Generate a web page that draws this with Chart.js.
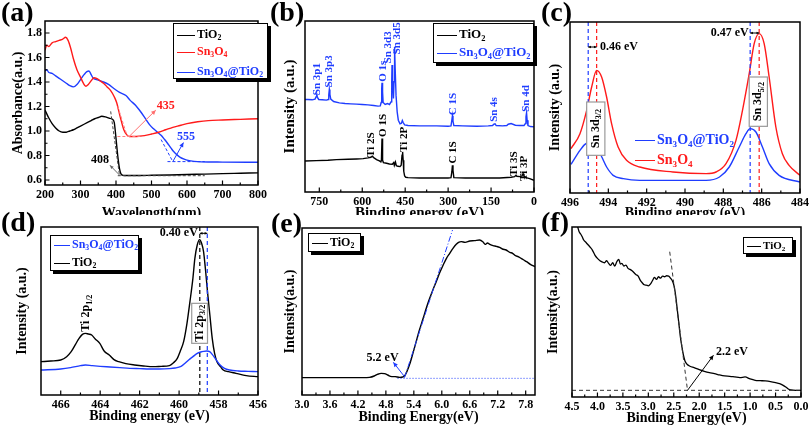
<!DOCTYPE html>
<html>
<head>
<meta charset="utf-8">
<script src="https://cdn.jsdelivr.net/npm/chart.js@4.4.1/dist/chart.umd.min.js"></script>
<style>
  body { margin: 0; background: #fff; width: 812px; height: 429px; position: relative; overflow: hidden;
         font-family: 'Liberation Serif', 'Times New Roman', serif; font-weight: bold; }
  canvas { position: absolute; }
  .tag { position: absolute; font-size: 28px; line-height: 1; z-index: 5; }
  .lg { position: absolute; background: #fff; border: 1px solid #000; box-shadow: 3px 3px 0 #000; z-index: 4; }
  .lgn { position: absolute; z-index: 4; }
  .r { position: absolute; left: 3px; white-space: nowrap; line-height: 14px; height: 14px; }
  .r b { display: inline-block; width: 18px; height: 0; border-top: 1.6px solid; vertical-align: middle; margin-right: 2px; }
  sub { font-size: 0.65em; line-height: 0; vertical-align: -0.3em; }
</style>
</head>
<body>
<canvas id="ca" width="270" height="215" style="left:0;top:0"></canvas>
<canvas id="cb" width="270" height="215" style="left:270px;top:0"></canvas>
<canvas id="cc" width="272" height="215" style="left:540px;top:0"></canvas>
<canvas id="cd" width="270" height="214" style="left:0;top:215px"></canvas>
<canvas id="ce" width="270" height="214" style="left:270px;top:215px"></canvas>
<canvas id="cf" width="272" height="214" style="left:540px;top:215px"></canvas>

<div class="tag" style="left:1px;top:-2px">(a)</div>
<div class="tag" style="left:270px;top:-2px">(b)</div>
<div class="tag" style="left:541px;top:-2px">(c)</div>
<div class="tag" style="left:1px;top:208px">(d)</div>
<div class="tag" style="left:271px;top:209px">(e)</div>
<div class="tag" style="left:541px;top:208px">(f)</div>

<div class="lg" style="left:173px;top:23px;width:93px;height:54px;font-size:12px">
  <div class="r" style="top:3px;color:#000"><b></b>TiO<sub>2</sub></div>
  <div class="r" style="top:20px;color:#ff1a1a"><b></b>Sn<sub>3</sub>O<sub>4</sub></div>
  <div class="r" style="top:40px;color:#1f3dff"><b></b>Sn<sub>3</sub>O<sub>4</sub>@TiO<sub>2</sub></div>
</div>
<div class="lg" style="left:433px;top:23px;width:99px;height:38px;font-size:13px">
  <div class="r" style="top:3px;color:#000"><b style="width:20px"></b>TiO<sub>2</sub></div>
  <div class="r" style="top:21px;color:#1f3dff"><b style="width:20px"></b>Sn<sub>3</sub>O<sub>4</sub>@TiO<sub>2</sub></div>
</div>
<div class="lgn" style="left:632px;top:133px;font-size:14px">
  <div class="r" style="top:0;color:#1f3dff"><b style="width:20px"></b>Sn<sub>3</sub>O<sub>4</sub>@TiO<sub>2</sub></div>
  <div class="r" style="top:20px;color:#ff1a1a"><b style="width:20px"></b>Sn<sub>3</sub>O<sub>4</sub></div>
</div>
<div class="lg" style="left:50px;top:235px;width:87px;height:34px;font-size:12px">
  <div class="r" style="top:1px;color:#1f3dff"><b style="width:16px"></b>Sn<sub>3</sub>O<sub>4</sub>@TiO<sub>2</sub></div>
  <div class="r" style="top:19px;color:#000"><b style="width:16px"></b>TiO<sub>2</sub></div>
</div>
<div class="lg" style="left:308px;top:233px;width:51px;height:17px;font-size:12px">
  <div class="r" style="top:1px;color:#000"><b style="width:16px"></b>TiO<sub>2</sub></div>
</div>
<div class="lg" style="left:743px;top:237px;width:48px;height:15px;font-size:11px">
  <div class="r" style="top:0;color:#000"><b style="width:14px"></b>TiO<sub>2</sub></div>
</div>

<script>
// Six-panel figure: UV-vis absorbance + XPS spectra of TiO2 / Sn3O4 / Sn3O4@TiO2

const FONT = "'Liberation Serif', 'Times New Roman', serif";
const RED = '#ff1a1a', BLUE = '#1f3dff', BLK = '#000';

// --- (a) UV-vis absorbance ---
const aXTicks = [200, 300, 400, 500, 600, 700, 800];
const aYTicks = [0.6, 0.8, 1.0, 1.2, 1.4, 1.6, 1.8];
const aTiO2 = [[200,1.17],[205,1.14],[210,1.11],[220,1.06],[230,1.025],[240,1.0],[250,0.99],[260,0.99],[270,1.0],[280,1.01],
  [290,1.025],[300,1.04],[310,1.055],[320,1.07],[330,1.085],[340,1.10],[350,1.11],[360,1.12],[370,1.115],[380,1.105],
  [390,1.095],[395,1.07],[398,1.0],[402,0.88],[406,0.77],[410,0.69],[414,0.65],[420,0.638],[430,0.636],[450,0.636],
  [500,0.638],[550,0.641],[600,0.645],[650,0.648],[700,0.652],[750,0.655],[800,0.658]];
const aSn3O4 = [[200,1.66],[205,1.70],[210,1.69],[220,1.72],[230,1.73],[240,1.74],[250,1.75],[258,1.765],[265,1.74],[272,1.68],
  [280,1.59],[290,1.50],[300,1.44],[308,1.39],[315,1.365],[322,1.38],[330,1.41],[338,1.435],[345,1.43],[355,1.41],
  [365,1.39],[375,1.36],[385,1.33],[395,1.28],[402,1.23],[408,1.16],[415,1.08],[422,1.01],[430,0.97],[437,0.955],
  [450,0.955],[465,0.957],[480,0.962],[500,0.975],[520,0.99],[540,1.01],[560,1.03],[580,1.045],[600,1.06],[630,1.075],
  [660,1.085],[700,1.09],[750,1.095],[800,1.10]];
const aComp = [[200,1.49],[205,1.50],[210,1.48],[220,1.47],[230,1.45],[240,1.43],[250,1.41],[260,1.39],[270,1.37],[280,1.36],
  [290,1.38],[300,1.42],[310,1.46],[318,1.485],[324,1.49],[330,1.46],[336,1.43],[345,1.42],[355,1.41],[365,1.40],
  [379,1.38],[395,1.345],[410,1.315],[428,1.29],[440,1.25],[455,1.21],[470,1.155],[482,1.105],[495,1.05],[505,1.02],
  [517,0.99],[527,0.965],[537,0.93],[545,0.90],[555,0.86],[563,0.83],[572,0.805],[581,0.785],[592,0.77],[603,0.76],
  [620,0.752],[640,0.748],[700,0.746],[800,0.745]];

// --- (b) XPS survey ---
const bXTicks = [750, 600, 450, 300, 150, 0];
const bTiO2 = [[800,93],[760,94],[720,95],[690,97],[650,98],[620,99],[597,100],[580,102],[570,104],[565,107],[560,103],
  [550,97],[540,93],[535,90],[533,95],[531,160],[529,95],[526,88],[515,86],[505,84],[495,83],[490,88],[488,80],[484,90],
  [481,79],[475,77],[468,76],[464,80],[461,110],[459,120],[457,95],[455,62],[452,48],[448,44],[440,43],[400,42],[340,42],
  [300,42],[290,43],[287,60],[285,80],[283,65],[280,43],[240,42],[180,42],[120,42],[80,44],[68,46],[63,50],[60,47],
  [50,46],[42,48],[38,55],[35,48],[28,43],[15,40],[0,35]];
const bComp = [[800,277],[790,277],[775,276],[765,278],[761,285],[759,295],[757,284],[752,277],[740,276],[725,275],[719,277],
  [717,290],[715,307],[713,292],[710,278],[700,271],[680,267],[660,265],[640,264],[620,263],[600,262],[580,261],[560,259],
  [545,257],[537,258],[534,268],[532,310],[531,327],[529,300],[527,268],[520,262],[512,265],[505,262],[499,270],[497,330],
  [496,380],[494,330],[491,280],[489,330],[487,435],[485,370],[482,290],[478,240],[474,215],[468,204],[463,206],[460,214],
  [457,208],[452,201],[440,199],[400,198],[340,198],[300,197],[290,198],[287,215],[285,228],[283,212],[280,199],[250,198],
  [200,197],[160,198],[145,199],[140,203],[136,204],[132,199],[110,198],[95,199],[90,203],[80,205],[65,200],[50,199],
  [35,199],[30,205],[28,225],[26,237],[24,215],[21,199],[12,196],[0,195]];

// --- (c) Sn 3d ---
const cXTicks = [496, 494, 492, 490, 488, 486, 484];
const cComp = [[495.95,86],[495.48,128],[495.22,146],[495.05,150],[494.79,133],[494.44,118],[494.09,78],[493.75,53],
  [493.22,43],[492.36,38],[490.6,38],[488.9,38],[488.2,48],[487.69,78],[487.17,138],[486.82,178],[486.6,193],[486.3,183],
  [485.96,138],[485.61,88],[485.09,53],[484.0,33]];
const cSn3O4 = [[495.95,133],[495.48,178],[495.13,248],[494.87,318],[494.61,368],[494.35,348],[494.09,288],[493.83,208],
  [493.49,138],[493.05,98],[492.36,78],[490.63,63],[488.9,58],[488.38,63],[487.86,88],[487.34,158],[487.0,248],[486.65,358],
  [486.39,448],[486.13,478],[485.87,448],[485.61,348],[485.26,198],[484.92,118],[484.57,83],[484.0,53]];

// --- (d) Ti 2p ---
const dXTicks = [466, 464, 462, 460, 458, 456];
const dComp = [[467,75],[466,78],[465.5,82],[465,88],[464.75,90],[464.4,88],[464,86],[463.5,84],[463,82],[462.5,80],[462,79],
  [461.5,78],[461,78],[460.5,79],[460.2,81],[459.9,86],[459.7,95],[459.5,106],[459.3,115],[459.1,124],[458.9,129],
  [458.75,131],[458.6,132],[458.45,130],[458.32,122],[458.15,108],[457.92,90],[457.7,80],[457.44,75],[457,72],[456.5,71],[456,70]];
const dTiO2 = [[467,100],[466.5,102],[466,105],[465.7,115],[465.47,130],[465.25,152],[465.07,170],[464.9,182],[464.75,185],
  [464.6,183],[464.43,180],[464.25,168],[464.02,155],[463.8,132],[463.54,120],[463.3,106],[463.06,100],[462.7,94],
  [462.26,90],[461.8,87],[461.29,85],[460.9,86],[460.49,88],[460.3,96],[460.09,110],[459.95,130],[459.77,160],[459.6,215],
  [459.45,280],[459.3,350],[459.2,410],[459.08,450],[458.96,466],[458.86,455],[458.76,430],[458.66,375],[458.56,310],
  [458.44,240],[458.32,170],[458.2,125],[458.08,100],[457.9,85],[457.76,75],[457.5,70],[457.12,65],[456.6,58],[456,55]];

// --- (e) valence band onset ---
const eXTicks = [3.0, 3.6, 4.2, 4.8, 5.4, 6.0, 6.6, 7.2, 7.8];
const eTiO2 = [[3.0,52],[3.5,52],[4.0,52],[4.3,52],[4.45,53],[4.55,57],[4.62,62],[4.7,65],[4.77,64],[4.84,60],[4.9,56],
  [5.0,55],[5.1,53],[5.16,54],[5.2,57],[5.25,70],[5.31,92],[5.38,125],[5.45,160],[5.52,195],[5.6,230],[5.67,262],
  [5.74,290],[5.81,316],[5.88,340],[5.95,365],[6.03,390],[6.1,410],[6.17,425],[6.24,440],[6.31,452],[6.36,458],[6.42,460],
  [6.5,458],[6.6,462],[6.7,463],[6.81,465],[6.88,460],[6.93,452],[6.98,456],[7.03,452],[7.1,448],[7.17,446],[7.24,443],
  [7.3,438],[7.38,435],[7.46,428],[7.52,425],[7.58,418],[7.64,415],[7.7,410],[7.76,405],[7.82,400],[7.9,392],[8.0,385]];

// --- (f) VB-XPS ---
const fXTicks = [4.5, 4.0, 3.5, 3.0, 2.5, 2.0, 1.5, 1.0, 0.5, 0.0];
const fTiO2 = [[4.39,510],[4.36,495],[4.33,488],[4.30,480],[4.27,470],[4.22,462],[4.18,455],[4.14,448],[4.10,440],[4.05,425],
  [4.0,415],[3.95,408],[3.9,404],[3.86,402],[3.82,408],[3.78,400],[3.74,394],[3.70,402],[3.66,392],[3.62,405],[3.58,412],
  [3.55,398],[3.52,400],[3.48,392],[3.44,395],[3.40,385],[3.36,382],[3.32,378],[3.28,372],[3.24,366],[3.2,362],[3.16,350],
  [3.12,342],[3.08,336],[3.04,335],[3.0,333],[2.96,338],[2.92,348],[2.88,358],[2.84,352],[2.80,360],[2.76,356],[2.72,362],
  [2.68,360],[2.64,363],[2.60,362],[2.56,355],[2.52,345],[2.49,330],[2.46,300],[2.43,260],[2.40,220],[2.37,180],[2.34,150],
  [2.31,125],[2.28,108],[2.24,98],[2.18,92],[2.1,88],[2.0,82],[1.9,77],[1.8,73],[1.7,70],[1.6,66],[1.5,63],[1.4,62],
  [1.3,60],[1.2,58],[1.1,60],[1.0,54],[0.9,50],[0.8,49],[0.7,48],[0.6,46],[0.5,43],[0.42,40],[0.35,35],[0.3,30],
  [0.25,24],[0.2,21],[0.1,20],[0.0,20]];

// ---------- drawing helpers ----------
function drawRich(ctx, parts, x, y, size, color, align, rot) {
  const segs = [].concat(parts).map(p => p[0] === '_' ? { s: p.slice(1), sub: true } : { s: p, sub: false });
  const f = sub => `bold ${sub ? Math.round(size * 0.65) : size}px ${FONT}`;
  let w = 0;
  segs.forEach(g => { ctx.font = f(g.sub); g.w = ctx.measureText(g.s).width; w += g.w; });
  ctx.save();
  ctx.translate(x, y);
  if (rot) ctx.rotate(-Math.PI / 2);
  ctx.fillStyle = color; ctx.textBaseline = 'middle'; ctx.textAlign = 'left';
  let cx = align === 'center' ? -w / 2 : align === 'right' ? -w : 0;
  segs.forEach(g => { ctx.font = f(g.sub); ctx.fillText(g.s, cx, g.sub ? size * 0.3 : 0); cx += g.w; });
  ctx.restore();
}

function arrowHead(ctx, x1, y1, x2, y2, s) {
  const a = Math.atan2(y2 - y1, x2 - x1);
  ctx.beginPath();
  ctx.moveTo(x2, y2);
  ctx.lineTo(x2 - s * Math.cos(a - 0.45), y2 - s * Math.sin(a - 0.45));
  ctx.lineTo(x2 - s * Math.cos(a + 0.45), y2 - s * Math.sin(a + 0.45));
  ctx.closePath();
  ctx.fill();
}

function drawMarks(chart, marks) {
  const { ctx, chartArea: a, scales: { x, y } } = chart;
  const X = v => x.getPixelForValue(v), Y = v => y.getPixelForValue(v);
  marks.forEach(m => {
    ctx.save();
    ctx.strokeStyle = ctx.fillStyle = m.c || BLK;
    ctx.lineWidth = m.w || 1.2;
    if (m.t === 'seg') {
      const [x1, y1, x2, y2] = [X(m.p[0]), Y(m.p[1]), X(m.p[2]), Y(m.p[3])];
      ctx.setLineDash(m.dash || []);
      ctx.beginPath(); ctx.moveTo(x1, y1); ctx.lineTo(x2, y2); ctx.stroke();
      ctx.setLineDash([]);
      if (m.head === 'end' || m.head === 'both') arrowHead(ctx, x1, y1, x2, y2, m.hs || 5);
      if (m.head === 'both') arrowHead(ctx, x2, y2, x1, y1, m.hs || 5);
    } else if (m.t === 'vl') {
      ctx.setLineDash(m.dash || [4, 3]);
      ctx.beginPath(); ctx.moveTo(X(m.x), a.top); ctx.lineTo(X(m.x), a.bottom); ctx.stroke();
    } else if (m.t === 'box') {
      const x1 = X(m.p[0]), y1 = Y(m.p[1]), x2 = X(m.p[2]), y2 = Y(m.p[3]);
      ctx.fillStyle = '#fff'; ctx.fillRect(x1, y1, x2 - x1, y2 - y1);
      ctx.strokeStyle = '#9a9a9a'; ctx.lineWidth = 1.2; ctx.strokeRect(x1, y1, x2 - x1, y2 - y1);
    } else if (m.t === 'txt') {
      drawRich(ctx, m.s, X(m.x), Y(m.y), m.size || 12, m.c || BLK, m.a || 'center', m.rot);
    }
    ctx.restore();
  });
}

function minorOf(t, lo, hi) {
  const step = t[1] - t[0], out = [];
  t.forEach(v => { const m = v + step / 2; if (m > lo && m < hi) out.push(m); });
  return out;
}

function panel(id, area, o) {
  const cv = document.getElementById(id);
  const L = cv.offsetLeft, T = cv.offsetTop, W = cv.width, H = cv.height;
  const l = area[0] - L, t = area[1] - T, r = area[2] - L, b = area[3] - T;
  const tickFont = { family: FONT, size: 12, weight: 'bold' };
  const titleFont = { family: FONT, size: o.tSize || 14, weight: 'bold' };
  const half = (o.tSize || 14) * 0.6;
  const [xlo, xhi] = o.x, [ylo, yhi] = o.y;

  const framePlugin = {
    id: 'frame',
    afterDraw(chart) {
      const { ctx, chartArea: a, scales: { x, y } } = chart;
      ctx.save();
      ctx.strokeStyle = '#000';
      ctx.beginPath();
      ctx.lineWidth = 1.2;
      o.xt.forEach(v => { const p = x.getPixelForValue(v); ctx.moveTo(p, a.bottom); ctx.lineTo(p, a.bottom - 4.5); });
      minorOf(o.xt, xlo, xhi).forEach(v => { const p = x.getPixelForValue(v); ctx.moveTo(p, a.bottom); ctx.lineTo(p, a.bottom - 2.5); });
      if (o.yt) {
        o.yt.forEach(v => { const p = y.getPixelForValue(v); ctx.moveTo(a.left, p); ctx.lineTo(a.left + 4.5, p); });
        minorOf(o.yt, ylo, yhi).forEach(v => { const p = y.getPixelForValue(v); ctx.moveTo(a.left, p); ctx.lineTo(a.left + 2.5, p); });
      }
      ctx.stroke();
      ctx.lineWidth = 1.5;
      ctx.strokeRect(a.left, a.top, a.right - a.left, a.bottom - a.top);
      ctx.restore();
    }
  };
  const marksPlugin = { id: 'marks', afterDatasetsDraw(chart) { drawMarks(chart, o.marks || []); } };

  return new Chart(cv, {
    type: 'line',
    data: {
      datasets: o.series.map(s => ({
        data: s.pts.map(p => ({ x: p[0], y: p[1] })),
        borderColor: s.color,
        borderWidth: s.w || 1.4,
        pointRadius: 0,
        cubicInterpolationMode: s.sharp ? 'default' : 'monotone',
        tension: 0,
        fill: false
      }))
    },
    options: {
      responsive: false,
      animation: false,
      events: [],
      layout: { padding: { left: 0, top: t, right: W - r, bottom: 0 } },
      plugins: { legend: { display: false }, tooltip: { enabled: false } },
      scales: {
        x: {
          type: 'linear', min: xlo, max: xhi, reverse: !!o.rev,
          afterBuildTicks: s => { s.ticks = o.xt.map(v => ({ value: v })); },
          afterFit: s => { s.height = H - b; },
          grid: { display: false, drawTicks: false },
          border: { display: false },
          ticks: { color: '#000', font: tickFont, padding: 3, autoSkip: false, maxRotation: 0,
                   callback: v => Number(v).toFixed(o.xd || 0) },
          title: { display: true, text: o.xTitle, color: '#000', font: titleFont,
                   padding: { top: 0, bottom: H - (o.xTitleY - T) - half } }
        },
        y: {
          type: 'linear', min: ylo, max: yhi,
          afterBuildTicks: s => { s.ticks = (o.yt || []).map(v => ({ value: v })); },
          afterFit: s => { s.width = l; },
          grid: { display: false, drawTicks: false },
          border: { display: false },
          ticks: { display: !!o.yt, color: '#000', font: tickFont, padding: 3,
                   callback: v => Number(v).toFixed(1) },
          title: { display: true, text: o.yTitle, color: '#000', font: titleFont,
                   padding: { top: (o.yTitleX - L) - half, bottom: 0 } }
        }
      }
    },
    plugins: [marksPlugin, framePlugin]
  });
}

Chart.defaults.font.family = FONT;

// (a)
panel('ca', [45, 21, 268, 185], {
  x: [200, 800], xt: aXTicks, y: [0.559, 1.898], yt: aYTicks,
  xTitle: 'Wavelength(nm)', xTitleY: 213, yTitle: 'Absorbance(a.u.)', yTitleX: 18,
  series: [{ pts: aTiO2, color: BLK }, { pts: aSn3O4, color: RED }, { pts: aComp, color: BLUE }],
  marks: [
    { t: 'seg', p: [385, 1.16, 410, 0.635], c: '#444', dash: [3, 2], w: 1 },
    { t: 'seg', p: [405, 0.635, 650, 0.635], c: '#444', dash: [3, 2], w: 1 },
    { t: 'seg', p: [405, 1.2, 432, 0.955], c: '#ff8080', dash: [3, 2], w: 1 },
    { t: 'seg', p: [404, 0.955, 473, 0.955], c: '#ff8080', dash: [3, 2], w: 1 },
    { t: 'seg', p: [527, 0.93, 560, 0.75], c: BLUE, dash: [3, 2], w: 1 },
    { t: 'seg', p: [545, 0.75, 650, 0.75], c: BLUE, dash: [3, 2], w: 1 },
    { t: 'seg', p: [410, 0.64, 383, 0.72], c: '#666', head: 'end', w: 1, hs: 4 },
    { t: 'seg', p: [437, 0.955, 512, 1.17], c: '#ff7070', head: 'end', w: 1, hs: 5 },
    { t: 'seg', p: [560, 0.75, 590, 0.905], c: BLUE, head: 'end', w: 1, hs: 5 },
    { t: 'txt', x: 355, y: 0.765, s: '408', c: BLK },
    { t: 'txt', x: 540, y: 1.205, s: '435', c: RED },
    { t: 'txt', x: 597, y: 0.95, s: '555', c: BLUE }
  ]
});

// (b)
const bLab = (x, y, s, c) => ({ t: 'txt', x, y, s, c, a: 'left', rot: true, size: 11 });
panel('cb', [305, 21, 535, 192], {
  x: [0, 800], rev: true, xt: bXTicks, y: [0, 512], yt: null, tSize: 15,
  xTitle: 'Binding energy (eV)', xTitleY: 213, yTitle: 'Intensity (a.u.)', yTitleX: 290,
  series: [{ pts: bTiO2, color: BLK, sharp: true }, { pts: bComp, color: BLUE, sharp: true }],
  marks: [
    bLab(759, 290, 'Sn 3p1', BLUE), bLab(715, 313, 'Sn 3p3', BLUE), bLab(527, 330, 'O 1s', BLUE),
    bLab(510, 385, 'Sn 3d3', BLUE), bLab(477, 412, 'Sn 3d5', BLUE), bLab(284, 230, 'C 1S', BLUE),
    bLab(139, 210, 'Sn 4s', BLUE), bLab(29, 240, 'Sn 4d', BLUE),
    bLab(568, 105, 'Ti 2S', BLK), bLab(526, 165, 'O 1S', BLK), bLab(452, 120, 'Ti 2P', BLK),
    bLab(284, 85, 'C 1S', BLK), bLab(68, 48, 'Ti 3S', BLK), bLab(33, 33, 'Ti 3P', BLK)
  ]
});

// (c)
panel('cc', [570, 22, 801, 193], {
  x: [484, 496], rev: true, xt: cXTicks, y: [0, 513], yt: null,
  xTitle: 'Binding energy (eV)', xTitleY: 213, yTitle: 'Intensity (a.u.)', yTitleX: 555,
  series: [{ pts: cComp, color: BLUE }, { pts: cSn3O4, color: RED }],
  marks: [
    { t: 'vl', x: 495.05, c: BLUE }, { t: 'vl', x: 494.61, c: RED },
    { t: 'vl', x: 486.6, c: BLUE }, { t: 'vl', x: 486.13, c: RED },
    { t: 'box', p: [495.13, 273, 494.18, 113] },
    { t: 'box', p: [486.65, 348, 485.70, 200] },
    { t: 'txt', x: 494.655, y: 193, s: ['Sn 3d', '_3/2'], rot: true, a: 'center' },
    { t: 'txt', x: 486.175, y: 274, s: ['Sn 3d', '_5/2'], rot: true, a: 'center' },
    { t: 'seg', p: [495.05, 438, 494.61, 438], head: 'both', hs: 3, w: 1 },
    { t: 'txt', x: 494.44, y: 438, s: '0.46 eV', a: 'left' },
    { t: 'seg', p: [486.6, 480, 486.13, 480], head: 'both', hs: 3, w: 1 },
    { t: 'txt', x: 486.68, y: 480, s: '0.47 eV', a: 'right' }
  ]
});

// (d)
panel('cd', [41, 227, 270, 395], {
  x: [456, 467], rev: true, xt: dXTicks, y: [0, 504], yt: null,
  xTitle: 'Binding energy (eV)', xTitleY: 416, yTitle: 'Intensity (a.u.)', yTitleX: 22,
  series: [{ pts: dComp, color: BLUE }, { pts: dTiO2, color: BLK }],
  marks: [
    { t: 'vl', x: 458.95, c: BLK }, { t: 'vl', x: 458.57, c: BLUE },
    { t: 'box', p: [459.36, 275, 458.56, 155] },
    { t: 'txt', x: 458.96, y: 215, s: ['Ti 2p', '_3/2'], rot: true, a: 'center' },
    { t: 'txt', x: 464.72, y: 190, s: ['Ti 2p', '_1/2'], rot: true, a: 'left' },
    { t: 'seg', p: [458.95, 485, 458.57, 485], head: 'both', hs: 3, w: 1 },
    { t: 'txt', x: 459.05, y: 485, s: '0.40 eV', a: 'right' }
  ]
});

// (e)
panel('ce', [302, 228, 535, 395], {
  x: [3.0, 8.0], xt: eXTicks, xd: 1, y: [0, 501], yt: null,
  xTitle: 'Binding Energy(eV)', xTitleY: 417, yTitle: 'Intensity(a.u.)', yTitleX: 290,
  series: [{ pts: eTiO2, color: BLK }],
  marks: [
    { t: 'seg', p: [5.2, 52, 6.23, 495], c: BLUE, dash: [6, 2, 1, 2], w: 1 },
    { t: 'seg', p: [5.05, 50, 8.0, 50], c: BLUE, dash: [1, 2], w: 1 },
    { t: 'seg', p: [5.2, 55, 4.96, 98], c: BLUE, head: 'end', w: 1, hs: 5 },
    { t: 'txt', x: 4.73, y: 110, s: '5.2 eV' }
  ]
});

// (f)
panel('cf', [572, 227, 801, 397], {
  x: [0, 4.5], rev: true, xt: fXTicks, xd: 1, y: [0, 509], yt: null,
  xTitle: 'Binding Energy(eV)', xTitleY: 418, yTitle: 'Intensity(a.u.)', yTitleX: 553,
  series: [{ pts: fTiO2, color: BLK, w: 1.3 }],
  marks: [
    { t: 'seg', p: [4.5, 20, 0, 20], c: '#333', dash: [4, 3], w: 1 },
    { t: 'seg', p: [2.58, 435, 2.23, 20], c: '#333', dash: [4, 3], w: 1 },
    { t: 'seg', p: [2.23, 20, 1.72, 125], c: BLK, head: 'end', w: 1, hs: 5 },
    { t: 'txt', x: 1.67, y: 135, s: '2.2 eV', a: 'left' }
  ]
});
</script>
</body>
</html>
